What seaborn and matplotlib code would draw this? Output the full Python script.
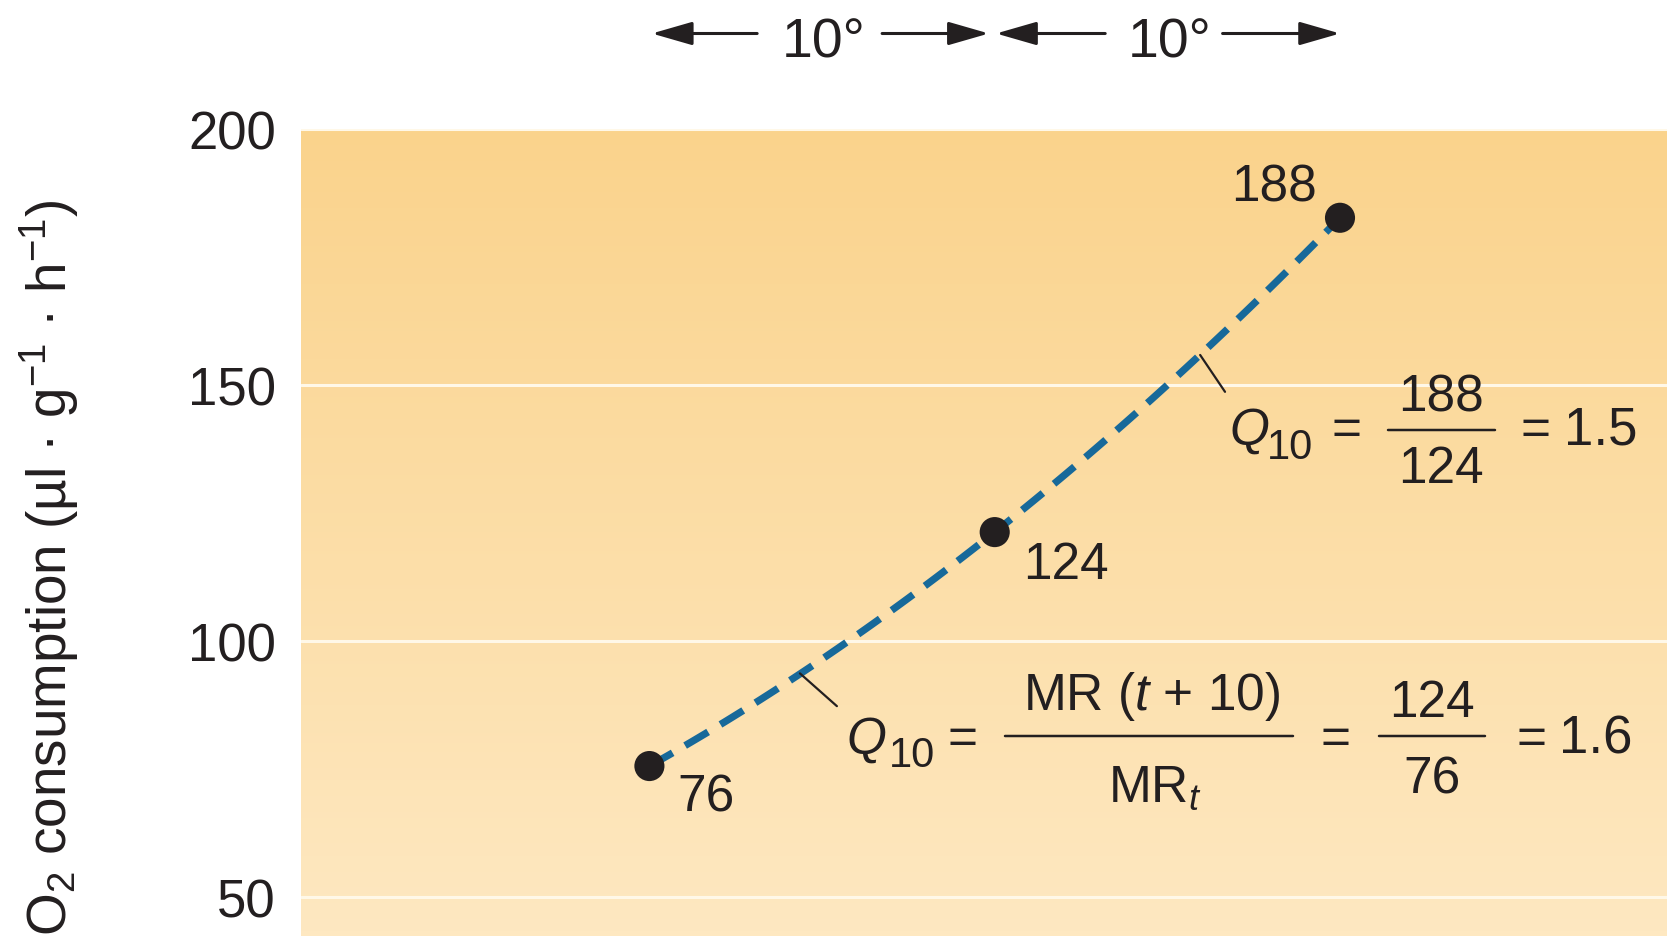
import numpy as np
import matplotlib
matplotlib.use("Agg")
import matplotlib.pyplot as plt
import seaborn as sns
from matplotlib.colors import LinearSegmentedColormap

# ---- data ----
temps = [10, 20, 30]                       # temperature (°C), 10° apart
o2_consumption = [75.5, 121.2, 182.6]      # plotted positions of the dots
point_labels = ["76", "124", "188"]        # printed values
y_ticks = [50, 100, 150, 200]

INK = "#231F20"
LINE_BLUE = "#17699A"
W, H = 1667, 937

sns.set_style("white")
plt.rcParams["font.family"] = ["Liberation Sans", "DejaVu Sans"]
plt.rcParams.update({
    "mathtext.fontset": "custom",
    "mathtext.rm": "Liberation Sans",
    "mathtext.it": "Liberation Sans:italic",
    "mathtext.bf": "Liberation Sans:bold",
    "text.color": INK,
})

fig = plt.figure(figsize=(W / 100, H / 100), dpi=100)
ax = fig.add_axes([301 / W, 0.0, 1 - 301 / W, 1 - 129.7 / H])

# background gradient
grad = np.linspace(0, 1, 256).reshape(-1, 1)
bg = LinearSegmentedColormap.from_list("bg", ["#FAD38C", "#FEE8C1"])
ax.imshow(grad, cmap=bg, aspect="auto", extent=[0, 1, 0, 1],
          transform=ax.transAxes, zorder=0, interpolation="bilinear")

# curve (exact quadratic through the three points) and the dots
sns.regplot(x=temps, y=o2_consumption, order=2, ci=None, scatter=False, ax=ax,
            color=LINE_BLUE,
            line_kws=dict(linewidth=5.2, linestyle=(0, (3.7, 2.0)),
                          dash_capstyle="butt", zorder=3))
sns.scatterplot(x=temps, y=o2_consumption, ax=ax, s=470, color=INK,
                edgecolor="none", zorder=5, legend=False)

ax.set_xlim(-0.09, 39.47)
ax.set_ylim(42.3, 200)
ax.set_xticks([])
ax.set_yticks(y_ticks)
ax.tick_params(axis="y", length=0, pad=18, labelsize=38, labelcolor=INK)
ax.set_axisbelow(True)
ax.grid(axis="y", color="#FFF8E8", lw=2.2)
ax.grid(axis="x", visible=False)
for s in ax.spines.values():
    s.set_visible(False)
ax.set_xlabel("")
ax.set_ylabel(r"O$_2$ consumption (µl · g$^{-1}$ · h$^{-1}$)", fontsize=39.5,
              color=INK, ha="center", va="center")
ax.yaxis.set_label_coords(-0.1845, 0.457)

# value labels next to dots
label_offsets = [(40.5, -32.2), (51.6, -32.9), (-47.2, 12.2)]
for t, v, lab, (dx, dy) in zip(temps, o2_consumption, point_labels, label_offsets):
    ax.annotate(lab, xy=(t, v), xytext=(dx, dy), textcoords="offset points",
                ha="center", va="baseline", fontsize=37, color=INK, zorder=6)


# ---- Q10 formulas, set piece by piece (positions in figure pixels from top) ----
def put(s, x, y, size=37, ha="left", style="normal"):
    fig.text(x / W, 1 - y / H, s, fontsize=size, ha=ha, va="baseline",
             style=style, color=INK)


def bar(x0, x1, y):
    ax.annotate("", xy=(x0, H - y), xycoords="figure pixels",
                xytext=(x1, H - y), textcoords="figure pixels",
                arrowprops=dict(arrowstyle="-", lw=1.8, color=INK,
                                shrinkA=0, shrinkB=0))


# Q10 = 188 / 124 = 1.5
put("Q", 1229, 445, style="italic")
put("10", 1267, 459, size=30)
put("=", 1346, 445, ha="center")
put("188", 1441, 412, ha="center")
bar(1388, 1495, 431)
put("124", 1441, 483, ha="center")
put("=", 1535, 445, ha="center")
put("1.5", 1564, 445, size=38)

# Q10 = MR(t+10) / MR_t = 124 / 76 = 1.6
put("Q", 846, 754, style="italic")
put("10", 889, 767, size=30)
put("=", 962, 754, ha="center")
put(r"MR ($t$ + 10)", 1152, 710, ha="center")
bar(1005, 1293, 737)
put(r"MR$_t$", 1155, 802, ha="center")
put("=", 1335, 754, ha="center")
put("124", 1432, 717, ha="center")
bar(1379, 1485, 737)
put("76", 1432, 794, ha="center")
put("=", 1531, 754, ha="center")
put("1.6", 1559, 754, size=38)

# leader ticks from the curve to the formulas
ax.annotate("", xy=(25.95, 155.8), xytext=(26.67, 148.6),
            arrowprops=dict(arrowstyle="-", color=INK, lw=1.6, shrinkA=0, shrinkB=0))
ax.annotate("", xy=(14.36, 93.6), xytext=(15.43, 87.2),
            arrowprops=dict(arrowstyle="-", color=INK, lw=1.6, shrinkA=0, shrinkB=0))

# 10° span arrows above the plot
y_arrow = 1 - 34.5 / H
arrow_style = "-|>,head_length=1.25,head_width=0.36"
for head, tail in [(10.07, 13.12), (19.83, 16.74), (20.04, 23.2), (30.0, 26.6)]:
    ax.annotate("", xy=(head, y_arrow), xycoords=("data", "figure fraction"),
                xytext=(tail, y_arrow), textcoords=("data", "figure fraction"),
                arrowprops=dict(arrowstyle=arrow_style, color=INK, lw=2.2,
                                shrinkA=0, shrinkB=0, mutation_scale=20),
                annotation_clip=False)
for xc in [15.05, 25.07]:
    ax.annotate("10°", xy=(xc, 1 - 57 / H), xycoords=("data", "figure fraction"),
                ha="center", va="baseline", fontsize=40, color=INK,
                annotation_clip=False)

fig.savefig("out.png", dpi=100)
